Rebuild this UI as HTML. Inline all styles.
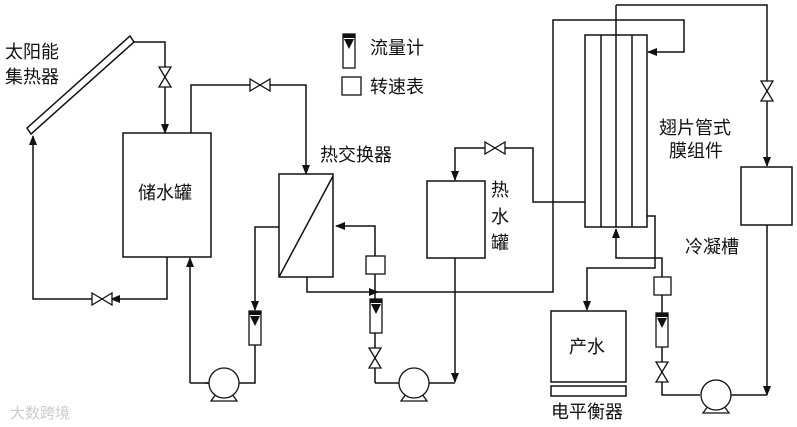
<!DOCTYPE html><html><head><meta charset="utf-8"><style>body{margin:0;background:#fff}svg{display:block}text{font-family:"Liberation Serif","Noto Sans CJK SC","Noto Serif CJK SC",serif;font-size:18px;fill:#111}</style></head><body>
<svg width="797" height="427" viewBox="0 0 797 427" xmlns="http://www.w3.org/2000/svg">
<defs>
<marker id="a" markerWidth="10" markerHeight="8" refX="9" refY="4" orient="auto" markerUnits="userSpaceOnUse"><path d="M0,0L10,4L0,8z" fill="#111"/></marker>
<g id="vv"><path d="M-6,-10L6,-10L-6,10L6,10z" fill="#fff" stroke="#111" stroke-width="1.3"/></g>
<g id="vh"><path d="M-10,-6L-10,6L10,-6L10,6z" fill="#fff" stroke="#111" stroke-width="1.3"/></g>
<g id="fm"><rect x="-6" y="0" width="12" height="34" fill="#fff" stroke="#111" stroke-width="1.3"/><rect x="-6" y="0" width="12" height="4" fill="#111"/><path d="M-5,5L5,5L0,15z" fill="#111"/></g>
<g id="pump"><path d="M-8,11L-13,18L13,18L8,11" fill="#fff" stroke="#111" stroke-width="1.3"/><circle r="15" fill="#fff" stroke="#111" stroke-width="1.3"/></g>
</defs>
<g fill="none" stroke="#111" stroke-width="1.5">
<path d="M27,128L130,36L134,42L31,134z" fill="#fff"/>
<path d="M133,42H165V133" marker-end="url(#a)"/>
<path d="M167,257V299H111" marker-end="url(#a)"/>
<path d="M106,299H33V136" marker-end="url(#a)"/>
<rect x="123" y="133" width="88" height="124"/>
<path d="M191,133V85H306V174" marker-end="url(#a)"/>
<rect x="279" y="174" width="54" height="103"/>
<path d="M279,277L333,176"/>
<path d="M279,227H255V310" marker-end="url(#a)"/>
<path d="M255,345V383H205"/>
<path d="M190,383V258" marker-end="url(#a)"/>
<path d="M190,383H210"/>
<path d="M375,383V226H336" marker-end="url(#a)"/>
<path d="M375,383H400"/>
<path d="M307,277V292H378" marker-end="url(#a)"/>
<path d="M378,292H553V20H684V52H648" marker-end="url(#a)"/>
<rect x="585" y="35" width="62" height="192"/>
<path d="M601,35V227M632,35V227"/>
<path d="M616,5V227M616,5H767V166" marker-end="url(#a)"/>
<rect x="741" y="167" width="51" height="58"/>
<path d="M767,225V395" marker-end="url(#a)"/>
<path d="M767,395H730"/>
<path d="M700,395H662V258H616V229" marker-end="url(#a)"/>
<path d="M647,216H655V268H587V310" marker-end="url(#a)"/>
<rect x="551" y="311" width="75" height="71"/>
<rect x="551" y="386" width="75" height="10"/>
<rect x="427" y="181" width="58" height="77"/>
<path d="M585,202H533V148H455V180" marker-end="url(#a)"/>
<path d="M455,258V382" marker-end="url(#a)"/>
<path d="M455,383H428"/>
</g>
<use href="#vv" x="165" y="77"/>
<use href="#vh" x="260" y="85"/>
<use href="#vh" x="102" y="299"/>
<use href="#vv" x="375" y="358"/>
<use href="#vh" x="495" y="148"/>
<use href="#vv" x="767" y="91"/>
<use href="#vv" x="662" y="372"/>
<use href="#fm" x="255" y="311"/>
<use href="#fm" x="376" y="299"/>
<use href="#fm" x="662" y="313"/>
<use href="#fm" x="349" y="34"/>
<rect x="366" y="256" width="19" height="18" fill="#fff" stroke="#111" stroke-width="1.3"/>
<rect x="654" y="277" width="17" height="18" fill="#fff" stroke="#111" stroke-width="1.3"/>
<rect x="342" y="77" width="19" height="18" fill="#fff" stroke="#111" stroke-width="1.3"/>
<use href="#pump" x="224" y="383"/>
<use href="#pump" x="414" y="383"/>
<use href="#pump" x="716" y="395"/>
<text x="5" y="58">太阳能</text><text x="5" y="83">集热器</text>
<text x="138" y="199">储水罐</text>
<text x="370" y="54">流量计</text><text x="370" y="93">转速表</text>
<text x="320" y="161">热交换器</text>
<text x="491" y="196">热</text><text x="491" y="223">水</text><text x="491" y="249">罐</text>
<text x="659" y="134">翅片管式</text><text x="669" y="157">膜组件</text>
<text x="685" y="253">冷凝槽</text>
<text x="569" y="353">产水</text>
<text x="551" y="418">电平衡器</text>
<text x="10" y="418" style="fill:#ccc;font-size:15px">大数跨境</text>
</svg></body></html>
